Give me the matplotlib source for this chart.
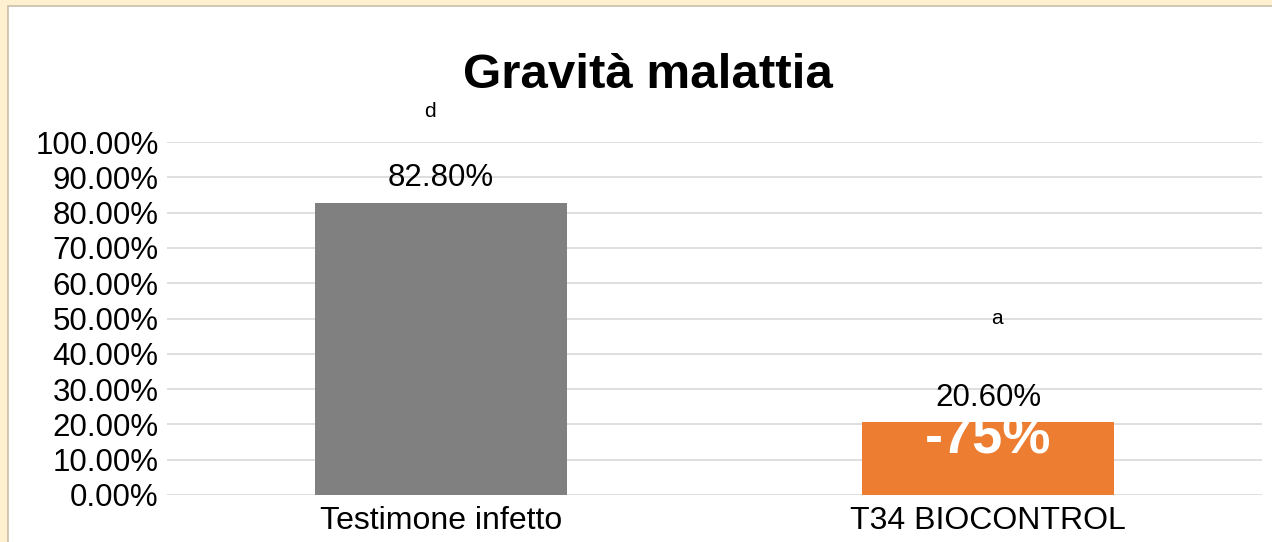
import matplotlib.pyplot as plt
from matplotlib.patches import Rectangle
from matplotlib.ticker import FuncFormatter

# --- data ---
categories = ["Testimone infetto", "T34 BIOCONTROL"]
severity = [82.80, 20.60]
letters = ["d", "a"]
letter_y = [108.5, 50.0]
reduction_label = "-75%"
bar_colors = ["#808080", "#ED7D31"]

plt.rcParams['font.family'] = ['Liberation Sans', 'DejaVu Sans']

fig = plt.figure(figsize=(12.72, 5.42), dpi=100)
fig.patch.set_facecolor("#FFF0CF")

# white chart area with a thin shadow edge
fig.patches.append(Rectangle((8 / 1272, -0.01), 1.02, (542 - 6) / 542 + 0.01,
                             transform=fig.transFigure, facecolor="white",
                             edgecolor="#C9BFA8", linewidth=1.2, zorder=-5))

ax = fig.add_axes([167 / 1272, 47 / 542, 1095 / 1272, 353 / 542])
ax.set_facecolor("none")
ax.set_zorder(2)

x = range(len(categories))
bars = ax.bar(x, severity, width=0.46, color=bar_colors, zorder=2)

ax.set_xlim(-0.5, 1.5)
ax.set_ylim(0, 100)
ax.set_yticks(range(0, 101, 10))
ax.yaxis.set_major_formatter(FuncFormatter(lambda v, p: f"{v:.2f}%"))
ax.grid(axis="y", color="#D9D9D9", linewidth=1.2, zorder=0)
ax.set_axisbelow(True)
for s in ax.spines.values():
    s.set_visible(False)
ax.tick_params(axis="y", length=0, pad=6, labelsize=22.5)
ax.tick_params(axis="x", length=0, pad=8, labelsize=23)
ax.set_xticks(list(x))
ax.set_xticklabels(categories)

# value labels
for xi, v in zip(x, severity):
    ax.annotate(f"{v:.2f}%", (xi, v), xytext=(0, 7), textcoords="offset points",
                ha="center", va="bottom", fontsize=22.5)

# significance letters
for xi, lt, ly, dx in zip(x, letters, letter_y, [-0.02, 0.015]):
    ax.text(xi + dx, ly, lt, ha="center", va="center", fontsize=15, clip_on=False)

# reduction label on the biocontrol bar
ax.text(1.0, 15.6, reduction_label, ha="center", va="center", fontsize=39,
        fontweight="bold", color="white", zorder=3)

fig.text(0.509, 0.86, "Gravità malattia", ha="center", va="center",
         fontsize=35.5, fontweight="bold")

fig.savefig("out.png", dpi=100, facecolor=fig.get_facecolor())
